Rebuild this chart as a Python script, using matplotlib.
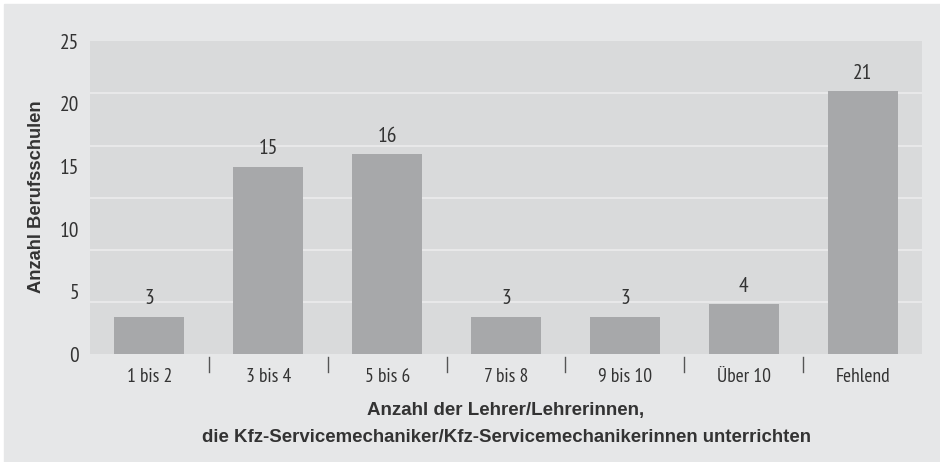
import matplotlib
matplotlib.use("Agg")
import matplotlib.pyplot as plt
from matplotlib.patches import Rectangle
import numpy as np

categories = ["1 bis 2", "3 bis 4", "5 bis 6", "7 bis 8", "9 bis 10", "Über 10", "Fehlend"]
counts = [3, 15, 16, 3, 3, 4, 21]
y_ticks = [0, 5, 10, 15, 20, 25]

plt.rcParams["font.family"] = ["PT Sans Narrow", "Liberation Sans", "DejaVu Sans"]
bold_font = ["Liberation Sans", "DejaVu Sans"]
text_col = "#333333"

fig = plt.figure(figsize=(9.4, 4.62), dpi=100)
fig.patch.set_facecolor("white")
fig.patches.append(Rectangle((4 / 940, 0), 936 / 940, 458 / 462,
                             transform=fig.transFigure, color="#e6e7e8", zorder=-5))

ax = fig.add_axes([90 / 940, (462 - 354.3) / 462, 832 / 940, 313 / 462])
ax.set_zorder(2)
ax.set_facecolor("#d9dadb")

x = np.arange(len(categories))
ax.bar(x, counts, width=0.59, color="#a7a8aa", zorder=3)

# value labels
for xi, v in zip(x, counts):
    ax.annotate(str(v), (xi, v), xytext=(0, 6), textcoords="offset points",
                ha="center", va="bottom", fontsize=15.5, color=text_col)

ax.set_xlim(-0.5, len(categories) - 0.5)
ax.set_ylim(0, 25)

# gridlines split the area in 6 equal bands
for g in np.linspace(0, 25, 7)[1:-1]:
    ax.axhline(g, color="#eaeaeb", lw=1.3, zorder=1)

ax.set_yticks(y_ticks)
ax.set_yticklabels([str(t) for t in y_ticks], fontsize=15.5, color=text_col)
ax.set_xticks(x)
ax.set_xticklabels(categories, fontsize=14, color=text_col)
ax.tick_params(axis="both", length=0)
ax.tick_params(axis="y", pad=8)
ax.tick_params(axis="x", pad=10)

# separators between categories
for b in np.arange(0.5, len(categories) - 1, 1):
    ax.plot([b, b], [-0.01, -0.058], color="#555555", lw=1,
            transform=ax.get_xaxis_transform(), clip_on=False)

for s in ax.spines.values():
    s.set_visible(False)

fig.text(506 / 940, 1 - 410 / 462, "Anzahl der Lehrer/Lehrerinnen,", ha="center", va="center",
         fontsize=13.5, fontweight="bold", color=text_col, family=bold_font)
fig.text(506 / 940, 1 - 437 / 462,
         "die Kfz-Servicemechaniker/Kfz-Servicemechanikerinnen unterrichten",
         ha="center", va="center", fontsize=13.4, fontweight="bold", color=text_col, family=bold_font)
fig.text(37 / 940, 1 - 197 / 462, "Anzahl Berufsschulen", rotation=90, ha="center", va="center",
         fontsize=13.2, fontweight="bold", color=text_col, family=bold_font)

fig.savefig("out.png", dpi=100)
